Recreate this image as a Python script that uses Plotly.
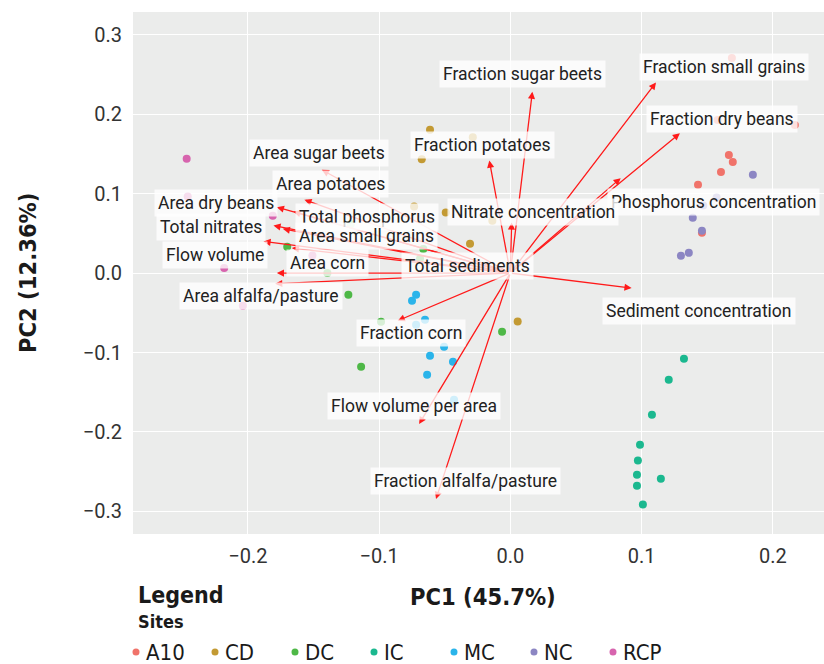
import plotly.graph_objects as go

# ---------------- data ----------------
sites = ["A10", "CD", "DC", "IC", "MC", "NC", "RCP"]
site_colors = ["#F0736A", "#C39A33", "#4EB847", "#1BB88F", "#2AB4EA", "#8C86C3", "#D764AE"]

a10_pc1 = [0.1665, 0.1695, 0.1605, 0.1430, 0.1460, 0.1688, 0.1580, 0.2168]
a10_pc2 = [0.1488, 0.1400, 0.1274, 0.1111, 0.0507, 0.2708, 0.1928, 0.1865]

cd_pc1 = [-0.0612, -0.0675, -0.0286, -0.0733, -0.0492, -0.0137, -0.0307, 0.0056]
cd_pc2 = [0.1803, 0.1434, 0.1711, 0.0838, 0.0763, 0.0658, 0.0369, -0.0609]

dc_pc1 = [-0.1700, -0.0663, -0.0688, -0.1394, -0.1234, -0.0985, -0.0063, -0.1137, -0.1216]
dc_pc2 = [0.0331, 0.0302, 0.0180, 0.0000, -0.0273, -0.0614, -0.0738, -0.1179, 0.0616]

ic_pc1 = [0.1323, 0.1207, 0.1079, 0.0988, 0.0972, 0.0965, 0.0965, 0.1147, 0.1010]
ic_pc2 = [-0.1078, -0.1342, -0.1784, -0.2160, -0.2360, -0.2538, -0.2676, -0.2588, -0.2915]

mc_pc1 = [-0.0718, -0.0749, -0.0650, -0.0718, -0.0505, -0.0612, -0.0437, -0.0634, -0.0429]
mc_pc2 = [-0.0273, -0.0349, -0.0588, -0.0650, -0.0927, -0.1040, -0.1116, -0.1280, -0.1594]

nc_pc1 = [0.1848, 0.1390, 0.1460, 0.1360, 0.1300, 0.1572, 0.1470]
nc_pc2 = [0.1237, 0.0696, 0.0532, 0.0255, 0.0218, 0.0951, 0.0850]

rcp_pc1 = [-0.2466, -0.2458, -0.1810, -0.2180, -0.2038, -0.1508]
rcp_pc2 = [0.1438, 0.0964, 0.0721, 0.0063, -0.0411, 0.0221]

site_pc1 = [a10_pc1, cd_pc1, dc_pc1, ic_pc1, mc_pc1, nc_pc1, rcp_pc1]
site_pc2 = [a10_pc2, cd_pc2, dc_pc2, ic_pc2, mc_pc2, nc_pc2, rcp_pc2]

loading_names = [
    "Fraction sugar beets", "Fraction small grains", "Fraction dry beans",
    "Phosphorus concentration", "Nitrate concentration", "Fraction potatoes",
    "Area sugar beets", "Area potatoes", "Area dry beans", "Total phosphorus",
    "Total nitrates", "Area small grains", "Flow volume", "Total sediments",
    "Area corn", "Area alfalfa/pasture", "Fraction corn", "Sediment concentration",
    "Flow volume per area", "Fraction alfalfa/pasture",
]
loading_pc1 = [0.0168, 0.1110, 0.1292, 0.0841, 0.0010, -0.0160,
               -0.1436, -0.1569, -0.1779, -0.1653, -0.1805, -0.1734, -0.1881, -0.1665,
               -0.1779, -0.1792, -0.0858, 0.0924, -0.0695, -0.0566]
loading_pc2 = [0.2284, 0.2400, 0.1760, 0.1195, 0.0637, 0.1416,
               0.1300, 0.0922, 0.0830, 0.0775, 0.0599, 0.0557, 0.0398, 0.0315,
               0.0000, -0.0135, -0.0600, -0.0189, -0.1900, -0.2843]
label_pc1 = [0.0089, 0.1627, 0.1612, 0.1550, 0.0170, -0.0210,
             -0.1460, -0.1373, -0.2241, -0.1094, -0.2282, -0.1094, -0.2254, -0.0327,
             -0.1390, -0.1900, -0.0756, 0.1436, -0.0734, -0.0343]
label_pc2 = [0.2510, 0.2600, 0.1940, 0.0900, 0.0763, 0.1610,
             0.1510, 0.1123, 0.0880, 0.0704, 0.0579, 0.0469, 0.0226, 0.0084,
             0.0126, -0.0286, -0.0755, -0.0474, -0.1673, -0.2620]

x_ticks = [-0.2, -0.1, 0.0, 0.1, 0.2]
y_ticks = [-0.3, -0.2, -0.1, 0.0, 0.1, 0.2, 0.3]

# ---------------- layout helpers ----------------
W, H = 824, 664
PL, PR, PT, PB = 133, 824, 12, 534  # plot area in pixels


def px_x(px):
    return (px - PL) / (PR - PL)


def px_y(py):
    return (PB - py) / (PB - PT)


TEXT_FONT = "Roboto, 'Open Sans', sans-serif"
COND_FONT = "'Liberation Sans Narrow', 'DejaVu Sans Condensed', 'Roboto Condensed', 'Arial Narrow', sans-serif"

fig = go.Figure()

for name, col, xs, ys in zip(sites, site_colors, site_pc1, site_pc2):
    fig.add_trace(go.Scatter(
        x=xs, y=ys, mode="markers", name=name,
        marker=dict(color=col, size=8, line=dict(width=0)),
        showlegend=False,
    ))

annotations = []
# arrows (loadings)
for lx, ly in zip(loading_pc1, loading_pc2):
    annotations.append(dict(
        x=lx, y=ly, ax=0, ay=0, xref="x", yref="y", axref="x", ayref="y",
        text="", showarrow=True, arrowhead=2, arrowsize=1.1, arrowwidth=1.3,
        arrowcolor="#FF1A1A", standoff=0, startstandoff=0,
    ))
# labels
for name, tx, ty in zip(loading_names, label_pc1, label_pc2):
    annotations.append(dict(
        x=tx, y=ty, xref="x", yref="y", text=name, showarrow=False,
        xanchor="center", yanchor="middle",
        bgcolor="rgba(255,255,255,0.78)", borderpad=3,
        font=dict(family=TEXT_FONT, size=17.5, color="#222222"),
    ))


def paper_text(text, px, py, size, xanchor="left", angle=0):
    return dict(
        x=px_x(px), y=px_y(py), xref="paper", yref="paper", showarrow=False,
        xanchor=xanchor, yanchor="middle", text=text, textangle=angle,
        font=dict(family=COND_FONT, size=size, color="#1a1a1a"),
    )


# axis titles
annotations.append(paper_text("<b>PC1 (45.7%)</b>", 483, 597, 23.5, xanchor="center"))
annotations.append(paper_text("<b>PC2 (12.36%)</b>", 28, 273, 23.5, xanchor="center", angle=-90))

# manual legend
annotations.append(paper_text("<b>Legend</b>", 136, 595, 23))
annotations.append(paper_text("<b>Sites</b>", 136, 621, 18))
legend_marker_px = [136, 215, 295, 374, 454, 534, 613]
shapes = []
for name, col, mx in zip(sites, site_colors, legend_marker_px):
    r = 3.5
    shapes.append(dict(
        type="circle", xref="paper", yref="paper",
        x0=px_x(mx - r), x1=px_x(mx + r), y0=px_y(652 + r), y1=px_y(652 - r),
        fillcolor=col, line=dict(width=0),
    ))
    annotations.append(paper_text(name, mx + 8, 652, 22))

fig.update_layout(
    width=W, height=H,
    margin=dict(l=PL, r=W - PR, t=PT, b=H - PB, pad=0),
    paper_bgcolor="white",
    plot_bgcolor="#EBECEB",
    annotations=annotations,
    shapes=shapes,
    showlegend=False,
    xaxis=dict(
        range=[-0.2875, 0.239], tickvals=x_ticks, ticktext=[f"{v:.1f}".replace("-", "\u2212") for v in x_ticks],
        showgrid=True, gridcolor="white", gridwidth=1.2, zeroline=False,
        showline=False, ticks="", ticklabelstandoff=8,
        tickfont=dict(family=TEXT_FONT, size=20, color="#333333"),
    ),
    yaxis=dict(
        range=[-0.3285, 0.3287], tickvals=y_ticks, ticktext=[f"{v:.1f}".replace("-", "\u2212") for v in y_ticks],
        showgrid=True, gridcolor="white", gridwidth=1.2, zeroline=False,
        showline=False, ticks="", ticklabelstandoff=10,
        tickfont=dict(family=TEXT_FONT, size=20, color="#333333"),
    ),
)

fig.write_html("out.html")
